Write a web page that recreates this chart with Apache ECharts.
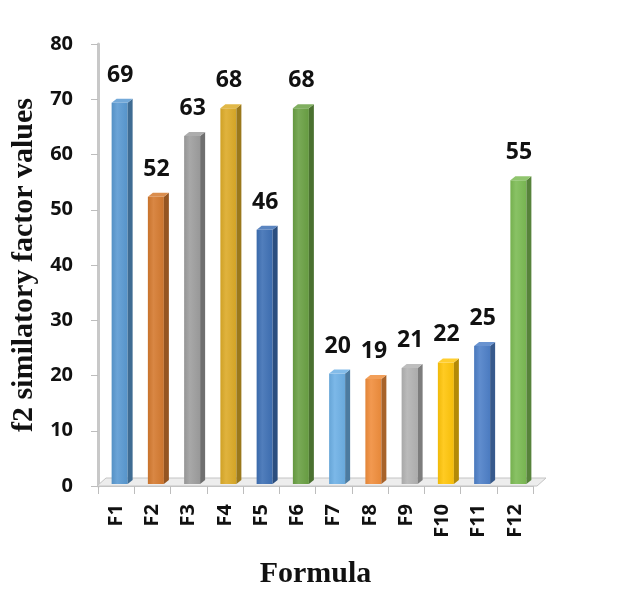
<!DOCTYPE html>
<html>
<head>
<meta charset="utf-8">
<script src="https://cdn.jsdelivr.net/npm/echarts@6/dist/echarts.min.js"></script>
<style>
  html, body { margin: 0; padding: 0; background: #fff; }
  #chart { width: 626px; height: 594px; }
</style>
</head>
<body>
<div id="chart"></div>
<script>
// Formulations and their f2 similarity factor values
var formulas = ['F1', 'F2', 'F3', 'F4', 'F5', 'F6', 'F7', 'F8', 'F9', 'F10', 'F11', 'F12'];
var f2Values = [69, 52, 63, 68, 46, 68, 20, 19, 21, 22, 25, 55];
var yTicks = [0, 10, 20, 30, 40, 50, 60, 70, 80];

// One colour per bar
var barColors = ['#5A9AD2', '#D57A2F', '#9E9E9E', '#DCAB28', '#3E70B5', '#6AA144',
                 '#6DB0E5', '#F08E3C', '#B3B3B3', '#FFC50A', '#4E80C8', '#7CBB54'];

function shade(hex, f) {
  var n = parseInt(hex.slice(1), 16);
  var r = (n >> 16) & 255, g = (n >> 8) & 255, b = n & 255;
  function c(v) {
    v = f < 0 ? v * (1 + f) : v + (255 - v) * f;
    return Math.max(0, Math.min(255, Math.round(v)));
  }
  return 'rgb(' + c(r) + ',' + c(g) + ',' + c(b) + ')';
}

// 3D look: front face, darker right side, lighter top cap; bars sit back from the floor's front edge
var FACE_W = 16, DEPTH = 5, RISE = 4, SHIFT_X = 6, SHIFT_Y = 2;

function renderBar(params, api) {
  var idx = api.value(0);
  var top = api.coord([idx, api.value(1)]);
  var base = api.coord([idx, 0]);
  var col = barColors[params.dataIndex];
  var cx = top[0] + SHIFT_X;
  var x0 = cx - (FACE_W + DEPTH) / 2;
  var x1 = x0 + FACE_W;
  var yTop = top[1] - SHIFT_Y;
  var yBase = base[1] - SHIFT_Y;
  return {
    type: 'group',
    children: [
      {
        type: 'rect',
        shape: { x: x0, y: yTop, width: FACE_W, height: yBase - yTop },
        style: {
          fill: new echarts.graphic.LinearGradient(0, 0, 1, 0, [
            { offset: 0, color: shade(col, -0.06) },
            { offset: 0.35, color: shade(col, 0.1) },
            { offset: 1, color: shade(col, -0.04) }
          ])
        }
      },
      {
        type: 'polygon',
        shape: { points: [[x1, yTop], [x1 + DEPTH, yTop - RISE], [x1 + DEPTH, yBase - RISE], [x1, yBase]] },
        style: { fill: shade(col, -0.3) }
      },
      {
        type: 'polygon',
        shape: { points: [[x0, yTop], [x0 + DEPTH, yTop - RISE], [x1 + DEPTH, yTop - RISE], [x1, yTop]] },
        style: { fill: shade(col, 0.15) }
      },
      {
        type: 'text',
        style: {
          text: String(api.value(1)),
          x: cx - 2,
          y: yTop - RISE - 12,
          align: 'center',
          verticalAlign: 'bottom',
          font: 'bold 23px "Open Sans", "Liberation Sans", sans-serif',
          fill: '#111'
        }
      }
    ]
  };
}

// Floor plane beneath the bars
function renderFloor(params, api) {
  var cs = params.coordSys;
  var yb = cs.y + cs.height;
  var xl = cs.x - 1, xr = cs.x + cs.width + 4;
  var dx = 9, dy = 8;
  return {
    type: 'polygon',
    shape: { points: [[xl, yb], [xl + dx, yb - dy], [xr + dx, yb - dy], [xr, yb]] },
    style: { fill: '#EDEDED', stroke: '#C4C4C4', lineWidth: 1 }
  };
}

var chart = echarts.init(document.getElementById('chart'), null, { renderer: 'canvas' });
chart.setOption({
  animation: false,
  backgroundColor: '#fff',
  grid: { left: 98, right: 93, top: 44, bottom: 102, containLabel: false },
  xAxis: {
    type: 'category',
    data: formulas,
    name: 'Formula',
    nameLocation: 'middle',
    nameGap: 73,
    nameTextStyle: { fontFamily: '"Liberation Serif", "DejaVu Serif", serif', fontWeight: 'bold', fontSize: 30, color: '#111' },
    axisLine: { lineStyle: { color: '#C4C4C4', width: 2 } },
    axisTick: { show: true, length: 8, lineStyle: { color: '#BDBDBD' } },
    axisLabel: {
      rotate: 90, margin: 18,
      fontFamily: '"Open Sans", "Liberation Sans", sans-serif',
      fontWeight: 'bold', fontSize: 20, color: '#111'
    },
    splitLine: { show: false }
  },
  yAxis: {
    type: 'value',
    min: yTicks[0],
    max: yTicks[yTicks.length - 1],
    interval: 10,
    name: 'f2 similatory factor values',
    nameLocation: 'middle',
    nameGap: 46,
    nameRotate: 90,
    nameTextStyle: { fontFamily: '"Liberation Serif", "DejaVu Serif", serif', fontWeight: 'bold', fontSize: 30, color: '#111' },
    axisLine: { show: true, lineStyle: { color: '#C8C8C8', width: 3 } },
    axisTick: { show: true, length: 7, lineStyle: { color: '#BDBDBD' } },
    axisLabel: {
      margin: 25,
      fontFamily: '"Open Sans", "Liberation Sans", sans-serif',
      fontWeight: 'bold', fontSize: 20, color: '#111'
    },
    splitLine: { show: false }
  },
  series: [
    {
      type: 'custom',
      name: 'floor',
      silent: true,
      z: 1,
      renderItem: renderFloor,
      data: [[0, 0]]
    },
    {
      type: 'custom',
      name: 'f2',
      z: 3,
      renderItem: renderBar,
      encode: { x: 0, y: 1 },
      data: f2Values.map(function (v, i) { return [i, v]; })
    }
  ]
});
</script>
</body>
</html>
